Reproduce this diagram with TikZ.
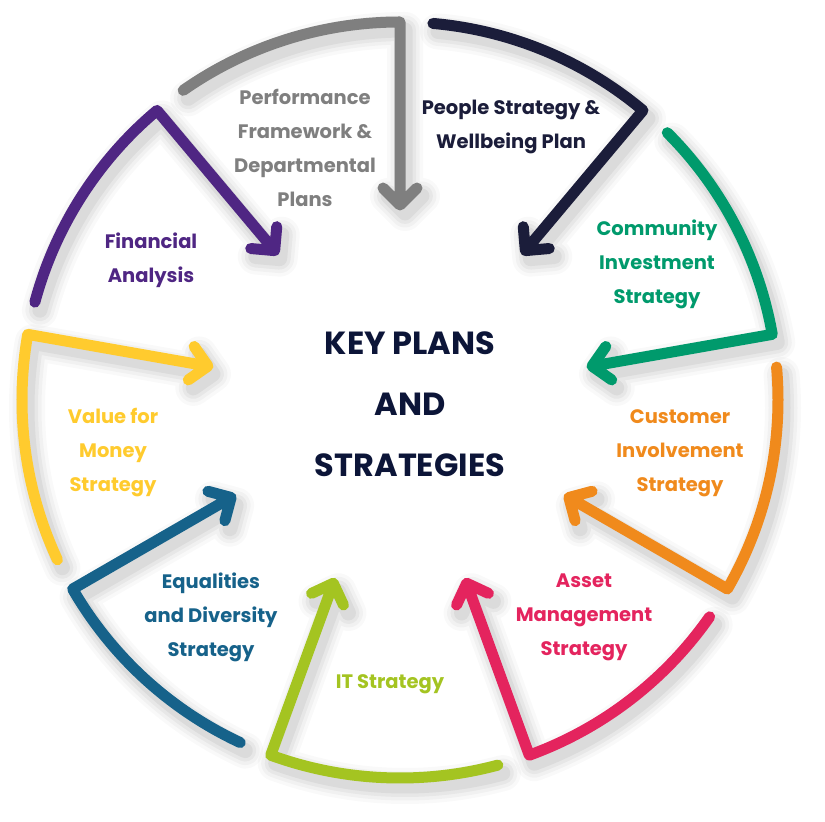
\documentclass[tikz,border=0pt]{standalone}
\usepackage{fontspec}
\setmainfont{Poppins}
\usetikzlibrary{calc}
\definecolor{cgray}{HTML}{7F7F7F}
\definecolor{cnavy}{HTML}{1B1D3A}
\definecolor{cgreen}{HTML}{009A6C}
\definecolor{corange}{HTML}{F08A1C}
\definecolor{cpink}{HTML}{E4245E}
\definecolor{clime}{HTML}{A4C421}
\definecolor{cblue}{HTML}{16628A}
\definecolor{cyellow}{HTML}{FFCB2E}
\definecolor{cpurple}{HTML}{4F2683}
\definecolor{ctitle}{HTML}{0C1538}
\newcommand\kpR{378}
\newcommand\kpRt{195}
\newcommand\kpW{24}
% define named points of one segment: prefix, centre, corner angle
\newcommand\kpcoords[3]{%
  \coordinate (#1-s) at ($(#2)+(#3+35:\kpR)$);
  \coordinate (#1-c) at ($(#2)+(#3:\kpR)$);
  \coordinate (#1-t) at ($(#2)+(#3:\kpRt)$);
  \coordinate (#1-w1) at ($(#1-t)+(#3+45:\kpW)$);
  \coordinate (#1-w2) at ($(#1-t)+(#3-45:\kpW)$);
}
\newcommand\kpseg[3]{%
  \kpcoords{#1}{C}{#3}
  \kpcoords{sh#1}{Cs}{#3}
  \foreach \lw/\op in {36/0.025,29/0.03,22/0.04,15/0.05}{
    \draw[line width=\lw pt, draw=black, opacity=\op, line cap=round, line join=round]
      (sh#1-s) arc[start angle=#3+35, end angle=#3, radius=\kpR] -- (sh#1-t)
      (sh#1-w1) -- (sh#1-t) -- (sh#1-w2);
  }
}
\newcommand\kpdraw[3]{%
  \draw[kparrow, draw=#2]
    (#1-s) arc[start angle=#3+35, end angle=#3, radius=\kpR] -- (#1-t)
    (#1-w1) -- (#1-t) -- (#1-w2);
}
\begin{document}
\begin{tikzpicture}[x=1pt,y=1pt,
  kparrow/.style={line width=11pt, line cap=round, line join=round},
  lab/.style={align=center, font=\bfseries\fontsize{19.5}{34}\selectfont, inner sep=0pt},
  title/.style={align=center, font=\bfseries\fontsize{32}{61}\selectfont, inner sep=0pt, text=ctitle}]
\useasboundingbox (0,0) rectangle (825,822);
\fill[white] (0,0) rectangle (825,822);
\coordinate (C) at (400,422);
\coordinate (Cs) at (405,414);
% shadows
\kpseg{gr}{cgray}{90}
\kpseg{nv}{cnavy}{50}
\kpseg{gn}{cgreen}{10}
\kpseg{or}{corange}{-30}
\kpseg{pk}{cpink}{-70}
\kpseg{lm}{clime}{-110}
\kpseg{bl}{cblue}{-150}
\kpseg{ye}{cyellow}{170}
\kpseg{pu}{cpurple}{130}
% arrows
\kpdraw{gr}{cgray}{90}
\kpdraw{nv}{cnavy}{50}
\kpdraw{gn}{cgreen}{10}
\kpdraw{or}{corange}{-30}
\kpdraw{pk}{cpink}{-70}
\kpdraw{lm}{clime}{-110}
\kpdraw{bl}{cblue}{-150}
\kpdraw{ye}{cyellow}{170}
\kpdraw{pu}{cpurple}{130}
% labels
\node[lab, text=cgray] (lgr) at (305,674.5) {Performance\\Framework \&\\Departmental\\Plans};
\node[lab, text=cnavy] (lnv) at (511,695) {People Strategy \&\\Wellbeing Plan};
\node[lab, text=cgreen] (lgn) at (657,558) {Community\\Investment\\Strategy};
\node[lab, text=corange] (lor) at (680,369) {Customer\\Involvement\\Strategy};
\node[lab, text=cpink] (lpk) at (584,205) {Asset\\Management\\Strategy};
\node[lab, text=clime] (llm) at (390,138) {IT Strategy};
\node[lab, text=cblue] (lbl) at (211,205) {Equalities\\and Diversity\\Strategy};
\node[lab, text=cyellow] (lye) at (113,369) {Value for\\Money\\Strategy};
\node[lab, text=cpurple] (lpu) at (151,561.5) {Financial\\Analysis};
\node[title] (ttl) at (410,418) {KEY PLANS\\AND\\STRATEGIES};
\end{tikzpicture}
\end{document}
